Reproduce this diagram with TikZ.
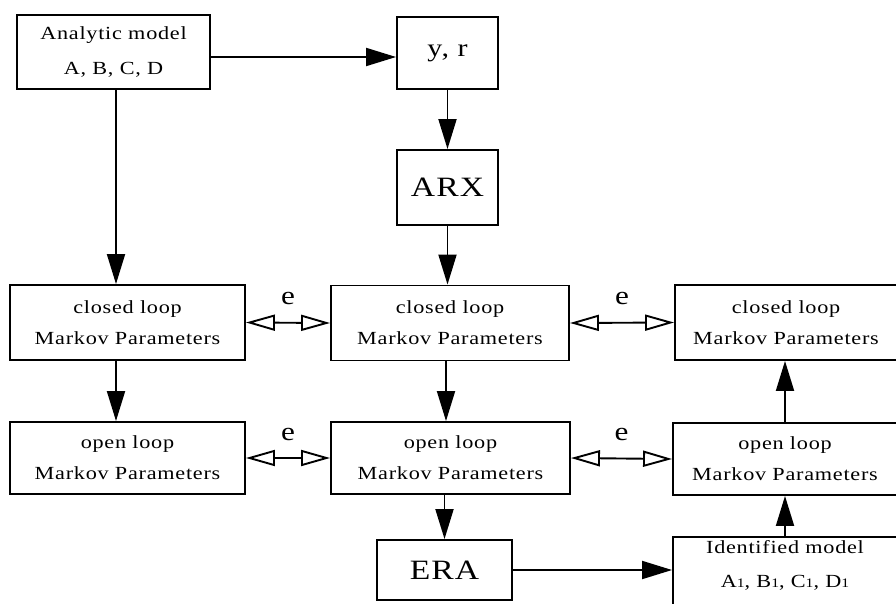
\documentclass[tikz,border=0pt]{standalone}
\usepackage{fontspec}
\setmainfont{Liberation Serif}[FakeStretch=1.2,LetterSpace=4]
\usetikzlibrary{arrows.meta}
% small index digit set on the baseline
\newcommand\lo[1]{{\fontsize{13}{13}\selectfont #1}}
\tikzset{
  blk/.style={draw, line width=1.9pt, inner sep=0pt, align=center,
              font=\fontsize{18.5}{31}\selectfont},
  big/.style={font=\fontsize{28}{30}\selectfont},
  mid/.style={font=\fontsize{25}{28}\selectfont},
  flow/.style={line width=1.9pt, -{Triangle[length=30pt,width=18pt]}},
  cmp/.style={line width=1.9pt,
              {Triangle[open,length=29pt,width=16pt]}-{Triangle[open,length=29pt,width=16pt]}},
  elab/.style={font=\fontsize{26}{26}\selectfont, inner sep=0pt}
}
\begin{document}
\begin{tikzpicture}[x=1pt,y=-1pt]
\useasboundingbox (0,0) rectangle (896,604);
\clip (0,0) rectangle (896,604);

% blocks
\node[blk, minimum width=193pt, minimum height=74pt] (ana) at (113.5,52) {Analytic model\\[4pt]A, B, C, D};
\node[blk, mid, minimum width=101pt, minimum height=72pt] (yr) at (447.5,53) {y, r};
\node[blk, big, minimum width=101pt, minimum height=75pt] (arx) at (447.5,187.5) {ARX};

\node[blk, minimum width=235pt, minimum height=75pt] (cl1) at (127.5,322.5) {closed loop\\Markov Parameters};
\node[blk, minimum width=238pt, minimum height=75pt] (cl2) at (450,323) {closed loop\\Markov Parameters};
\node[blk, minimum width=222pt, minimum height=75pt] (cl3) at (786,322.5) {closed loop\\Markov Parameters};

\node[blk, minimum width=235pt, minimum height=72pt] (op1) at (127.5,458) {open loop\\Markov Parameters};
\node[blk, minimum width=239pt, minimum height=72pt] (op2) at (450.5,458) {open loop\\Markov Parameters};
\node[blk, minimum width=224pt, minimum height=72pt] (op3) at (785,459) {open loop\\Markov Parameters};

\node[blk, big, minimum width=135pt, minimum height=60pt] (era) at (444.5,570) {ERA};
\node[blk, anchor=north, minimum width=224pt, inner ysep=4pt, text depth=40pt] (idm) at (785,536)
  {Identified model\\[3pt]A\lo1, B\lo1, C\lo1, D\lo1};

% flow of the identification
\draw[flow] ([yshift=-5pt]ana.east) -- ([yshift=-5pt]ana.east -| yr.west);
\draw[flow] ([xshift=2.5pt]ana.south) -- ([xshift=2.5pt]ana.south |- cl1.north);
\draw[flow] (yr.south) -- (arx.north);
\draw[flow] (arx.south) -- (arx.south |- cl2.north);
\draw[flow] ([xshift=-11.5pt]cl1.south) -- ([xshift=-11.5pt]cl1.south |- op1.north);
\draw[flow] ([xshift=-4pt]cl2.south) -- ([xshift=-4pt]cl2.south |- op2.north);
\draw[flow] (era.north |- op2.south) -- (era.north);
\draw[flow] (era.east) -- (era.east -| idm.west);
\draw[flow] (idm.north) -- (op3.south);
\draw[flow] (op3.north) -- (op3.north |- cl3.south);

% comparisons (error e)
\draw[cmp] (cl1.east) -- (cl2.west) node[elab, midway, yshift=24pt] {e};
\draw[cmp] (cl2.east) -- (cl3.west) node[elab, midway, yshift=24pt] {e};
\draw[cmp] (op1.east) -- (op2.west) node[elab, midway, yshift=24pt] {e};
\draw[cmp] (op2.east) -- (op3.west) node[elab, midway, yshift=24pt] {e};
\end{tikzpicture}
\end{document}
